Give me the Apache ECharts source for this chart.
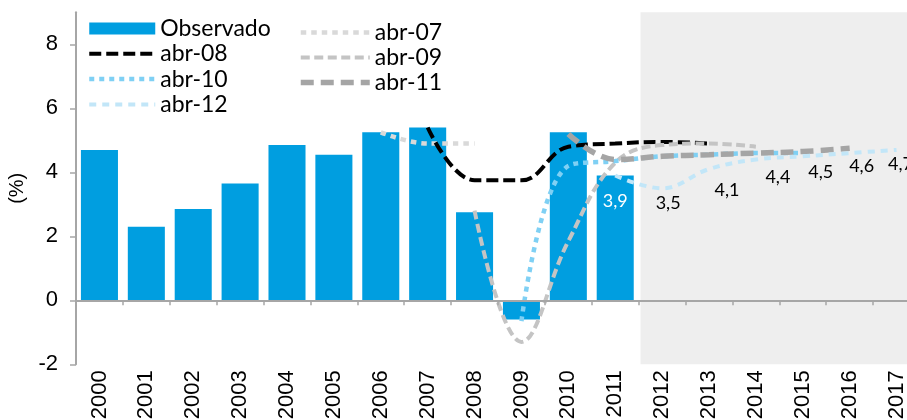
<!DOCTYPE html>
<html>
<head>
<meta charset="utf-8">
<script src="https://cdn.jsdelivr.net/npm/echarts@6/dist/echarts.min.js"></script>
<style>
  html, body { margin: 0; padding: 0; background: #ffffff; }
  #chart { width: 907px; height: 420px; }
</style>
</head>
<body>
<div id="chart"></div>
<script>
// Years on the horizontal axis
const years = ['2000', '2001', '2002', '2003', '2004', '2005', '2006', '2007', '2008',
  '2009', '2010', '2011', '2012', '2013', '2014', '2015', '2016', '2017'];

// Observed growth (%), 2000-2011
const observado = [4.7, 2.3, 2.85, 3.65, 4.85, 4.55, 5.25, 5.4, 2.75, -0.6, 5.25, 3.9];

// Forecast vintages (%), aligned to the years above
const abr07 = [null, null, null, null, null, null, 5.25, 4.9, 4.9];
const abr08 = [null, null, null, null, null, null, null, 5.4, 3.75, 3.75, 4.8, 4.9, 4.95, 4.9];
const abr09 = [null, null, null, null, null, null, null, null, 2.8, -1.3, 1.85, 4.3, 4.85, 4.9, 4.8];
const abr10 = [null, null, null, null, null, null, null, null, null, -0.65, 4.2, 4.35, 4.5, 4.55, 4.6, 4.6];
const abr11 = [null, null, null, null, null, null, null, null, null, null, 5.2, 4.4, 4.5, 4.55, 4.6, 4.65, 4.75];
const abr12 = [null, null, null, null, null, null, null, null, null, null, null, 3.9, 3.5, 4.1, 4.4, 4.5, 4.6, 4.7];

// Value-axis ticks
const yTicks = [-2, 0, 2, 4, 6, 8];

// First projected year (index into years) - start of the shaded band
const forecastStart = years.indexOf('2012');

const comma = v => String(v).replace('.', ',');
const AXIS_GREY = '#A6A6A6';
const SANS = 'Liberation Sans';
const ROUND = 'Lato';

// stroke settings per forecast vintage
const lineLook = {
  'abr-07': { color: '#D9D9D9', width: 4.5, dash: [5.5, 5] },
  'abr-08': { color: '#000000', width: 4, dash: [12, 5] },
  'abr-09': { color: '#C4C4C4', width: 4, dash: [9, 4.5] },
  'abr-10': { color: '#7FD0F4', width: 4.5, dash: [5, 5] },
  'abr-11': { color: '#A5A5A5', width: 5.5, dash: [13, 7] },
  'abr-12': { color: '#C2E6F8', width: 4, dash: [7, 6] }
};

function forecastLine(name, data, extra) {
  const look = lineLook[name];
  return Object.assign({
    name: name,
    type: 'line',
    data: data,
    smooth: 0.4,
    symbol: 'none',
    z: 3,
    lineStyle: { color: look.color, width: look.width, type: look.dash, cap: 'butt' },
    itemStyle: { color: look.color },
    emphasis: { disabled: true }
  }, extra || {});
}

// hand-placed nudges for the abr-12 value labels, keyed by year index
const abr12LabelNudge = { 12: [6, 1], 13: [18, 7], 14: [22, 4], 15: [18, 2], 16: [12, -1], 17: [4, 0] };
const abr12Data = abr12.map((v, i) => abr12LabelNudge[i]
  ? { value: v, label: { offset: abr12LabelNudge[i] } }
  : v);

// legend entries for lines: full-width stroke, no marker
const lineEntry = name => ({
  name: name,
  itemStyle: { opacity: 0 },
  lineStyle: { width: lineLook[name].width, type: lineLook[name].dash, color: lineLook[name].color }
});

const chart = echarts.init(document.getElementById('chart'), null, { renderer: 'canvas' });

const legendText = { fontSize: 23, fontFamily: ROUND, color: '#000', lineHeight: 22 };

chart.setOption({
  animation: false,
  backgroundColor: '#ffffff',
  grid: {
    left: 76, right: -13, top: 12.3, bottom: 55.7,
    containLabel: false, outerBoundsMode: 'none'
  },
  legend: [
    {
      data: [{ name: 'Observado', icon: 'rect' }, lineEntry('abr-08'), lineEntry('abr-10'), lineEntry('abr-12')],
      orient: 'vertical', left: 87, top: 17, padding: 0,
      itemWidth: 66, itemHeight: 12, itemGap: 2.3,
      textStyle: legendText
    },
    {
      data: [lineEntry('abr-07'), lineEntry('abr-09'), lineEntry('abr-11')],
      orient: 'vertical', left: 298, top: 21, padding: 0,
      itemWidth: 69, itemHeight: 12, itemGap: 2,
      textStyle: legendText
    }
  ],
  xAxis: [
    {
      // year labels along the bottom of the plot
      type: 'category', data: years, position: 'bottom',
      axisLine: { show: false, onZero: false },
      axisTick: { show: false },
      axisLabel: { rotate: 90, margin: 6, interval: 0, fontSize: 22, fontFamily: SANS, color: '#000' },
      splitLine: { show: false }
    },
    {
      // baseline at zero with tick marks between years
      type: 'category', data: years, position: 'top', z: 10,
      axisLine: { show: true, onZero: true, lineStyle: { color: AXIS_GREY, width: 2 } },
      axisTick: { show: true, inside: true, length: 5, lineStyle: { color: AXIS_GREY, width: 1.5 } },
      axisLabel: { show: false },
      splitLine: { show: false }
    },
    {
      // helper scale for the projection band
      type: 'value', min: 0, max: years.length, show: false
    }
  ],
  yAxis: {
    type: 'value', min: -2, max: 9, interval: 2,
    name: '(%)', nameLocation: 'middle', nameGap: 46,
    nameTextStyle: { fontSize: 20, fontFamily: SANS, color: '#000' },
    axisLine: { show: true, lineStyle: { color: AXIS_GREY, width: 2 } },
    axisTick: { show: true, length: 6, customValues: yTicks, lineStyle: { color: AXIS_GREY, width: 1.5 } },
    axisLabel: { customValues: yTicks, margin: 18, fontSize: 22, fontFamily: SANS, color: '#000' },
    splitLine: { show: false }
  },
  series: [
    {
      // shaded projection period
      name: 'proyección', type: 'line', xAxisIndex: 2, data: [], silent: true,
      symbol: 'none', z: 0,
      markArea: {
        silent: true, z: 0,
        itemStyle: { color: '#EEEEEE' },
        data: [[{ xAxis: forecastStart + 0.04 }, { xAxis: years.length }]]
      }
    },
    {
      name: 'Observado', type: 'bar', barWidth: '79%', z: 2,
      itemStyle: { color: '#009EE0' },
      emphasis: { disabled: true },
      label: {
        show: false, position: 'insideTop', distance: 17,
        fontSize: 18, fontFamily: ROUND, color: '#ffffff',
        formatter: p => comma(p.value)
      },
      data: observado.map((v, i) => i === observado.length - 1 ? { value: v, label: { show: true } } : v)
    },
    forecastLine('abr-07', abr07),
    forecastLine('abr-08', abr08),
    forecastLine('abr-09', abr09),
    forecastLine('abr-10', abr10),
    forecastLine('abr-11', abr11),
    forecastLine('abr-12', abr12Data, {
      symbol: 'circle', symbolSize: 0.01, showSymbol: true,
      itemStyle: { color: 'transparent' },
      label: {
        show: true, position: 'bottom', distance: 5,
        fontSize: 18, fontFamily: ROUND, color: '#000',
        formatter: p => p.dataIndex >= forecastStart ? comma(p.value) : ''
      }
    })
  ]
});
</script>
</body>
</html>
